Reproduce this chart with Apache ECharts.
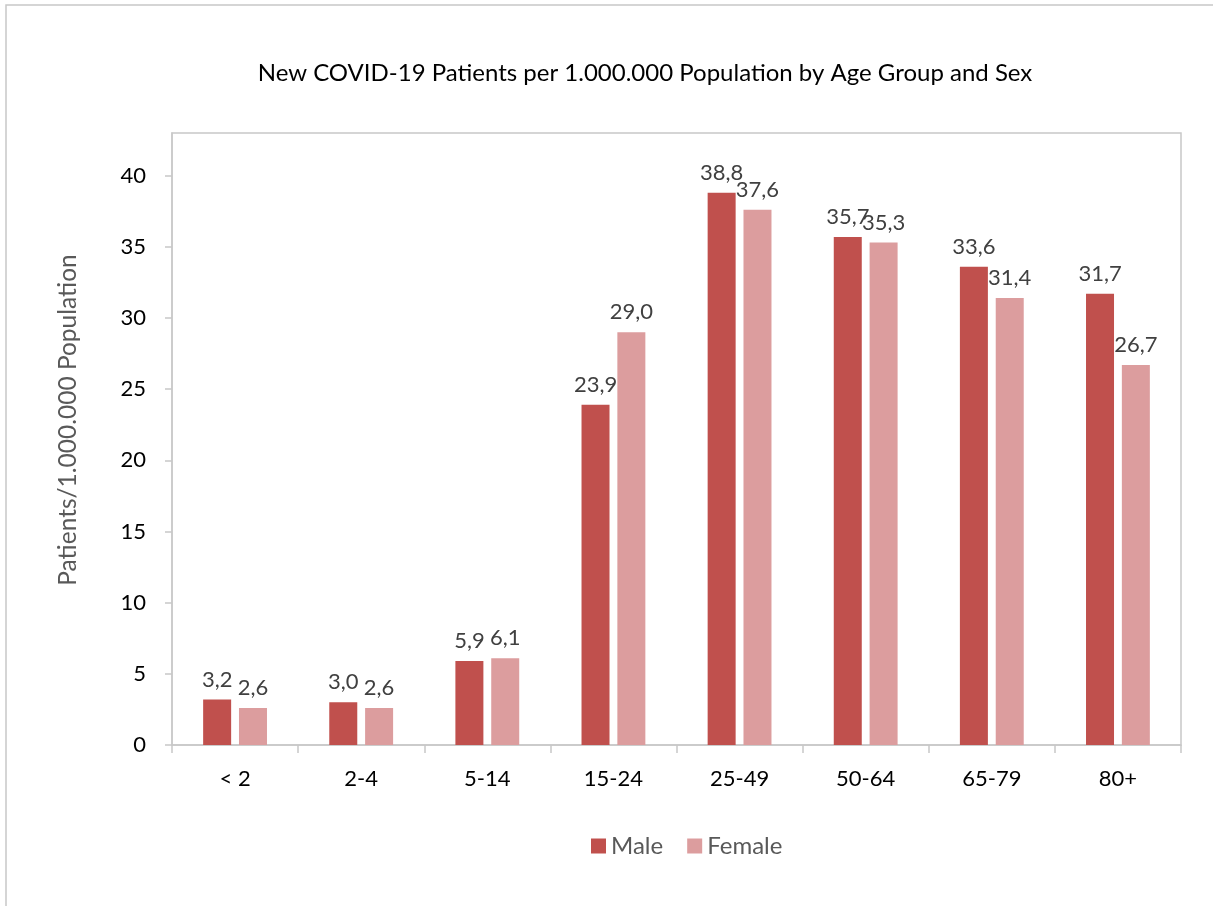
<!DOCTYPE html>
<html>
<head>
<meta charset="utf-8">
<script src="https://cdn.jsdelivr.net/npm/echarts@6/dist/echarts.min.js"></script>
<style>html,body{margin:0;padding:0;background:#fff}#c{width:1213px;height:906px}</style>
</head>
<body>
<div id="c"></div>
<script>
const categories = ['< 2', '2-4', '5-14', '15-24', '25-49', '50-64', '65-79', '80+'];
const maleValues = [3.2, 3.0, 5.9, 23.9, 38.8, 35.7, 33.6, 31.7];
const femaleValues = [2.6, 2.6, 6.1, 29.0, 37.6, 35.3, 31.4, 26.7];
const yTicks = [0, 5, 10, 15, 20, 25, 30, 35, 40];
const titleText = 'New COVID-19 Patients per 1.000.000 Population by Age Group and Sex';
const yAxisTitle = 'Patients/1.000.000 Population';

const FONT = 'Lato, "Open Sans", sans-serif';
const fmt = p => p.value.toFixed(1).replace('.', ',');
const labelStyle = {show: true, position: 'top', distance: 9, formatter: fmt, color: '#404040', fontSize: 22, fontFamily: FONT};

const chart = echarts.init(document.getElementById('c'), null, {renderer: 'canvas'});
chart.setOption({
  animation: false,
  backgroundColor: '#fff',
  textStyle: {fontFamily: FONT},
  title: {
    text: titleText, left: 640, top: 56, textAlign: 'center',
    textStyle: {fontSize: 24, fontWeight: 'normal', color: '#000', fontFamily: FONT}
  },
  legend: {
    data: ['Male', 'Female'], left: 586, top: 829, itemWidth: 15, itemHeight: 15, itemGap: 24,
    icon: 'rect',
    textStyle: {fontSize: 24, color: '#595959', fontFamily: FONT}
  },
  grid: {left: 172, top: 133, right: 32, bottom: 161, show: true, borderColor: '#c8c8c8', borderWidth: 1.5, containLabel: false},
  xAxis: {
    type: 'category', data: categories,
    axisLine: {lineStyle: {color: '#c8c8c8', width: 1.5}},
    axisTick: {show: true, length: 8, lineStyle: {color: '#c8c8c8', width: 1.5}},
    axisLabel: {fontSize: 22, color: '#000', margin: 23, fontFamily: FONT}
  },
  yAxis: {
    type: 'value', min: 0, max: 43, interval: 5,
    splitLine: {show: false},
    axisLine: {show: true, lineStyle: {color: '#c8c8c8', width: 1.5}},
    axisTick: {show: true, length: 7, customValues: yTicks, lineStyle: {color: '#c8c8c8', width: 1.5}},
    axisLabel: {fontSize: 22, color: '#000', margin: 26, customValues: yTicks, fontFamily: FONT}
  },
  series: [
    {name: 'Male', type: 'bar', data: maleValues, barWidth: 28, barGap: '28%', itemStyle: {color: '#c0504d'}, label: labelStyle},
    {name: 'Female', type: 'bar', data: femaleValues, barWidth: 28, itemStyle: {color: '#dc9d9e'}, label: labelStyle}
  ],
  graphic: [
    {type: 'rect', shape: {x: 6, y: 5, width: 1400, height: 1100}, style: {fill: 'none', stroke: '#c8c8c8', lineWidth: 1.5}, silent: true, z: -10},
    {type: 'text', x: 68, y: 420, rotation: Math.PI / 2,
     style: {text: yAxisTitle, fontSize: 24.5, fill: '#595959', fontFamily: FONT, textAlign: 'center', textVerticalAlign: 'middle'}}
  ]
});
</script>
</body>
</html>
